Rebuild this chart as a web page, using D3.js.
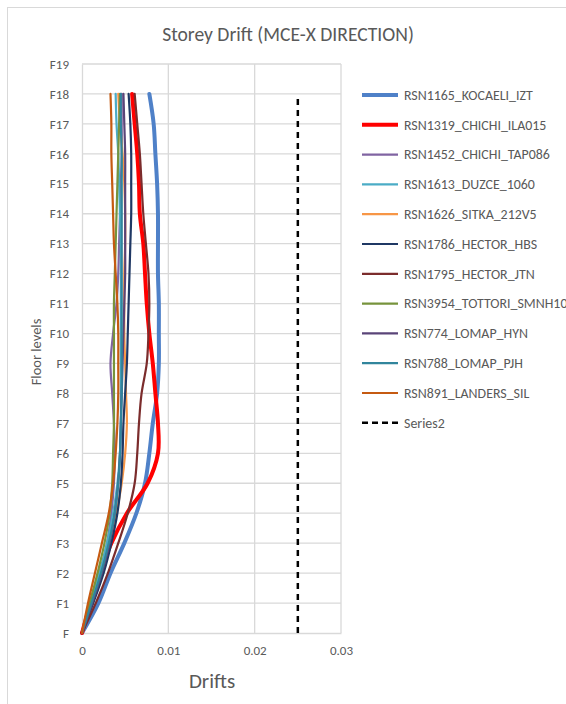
<!DOCTYPE html>
<html><head><meta charset="utf-8">
<script src="https://cdn.jsdelivr.net/npm/d3@7"></script>
<style>html,body{margin:0;padding:0;background:#fff;overflow:hidden}</style>
</head><body>
<svg id="c" width="566" height="704"></svg>
<script>
const floorLabels = ["F","F1","F2","F3","F4","F5","F6","F7","F8","F9","F10","F11","F12","F13","F14","F15","F16","F17","F18","F19"];
const xTicks = [0, 0.01, 0.02, 0.03];
const seriesNames = ["RSN1165_KOCAELI_IZT","RSN1319_CHICHI_ILA015","RSN1452_CHICHI_TAP086","RSN1613_DUZCE_1060","RSN1626_SITKA_212V5","RSN1786_HECTOR_HBS","RSN1795_HECTOR_JTN","RSN3954_TOTTORI_SMNH10","RSN774_LOMAP_HYN","RSN788_LOMAP_PJH","RSN891_LANDERS_SIL","Series2"];
const seriesColors = ["#4F81C8","#FF0000","#8064A2","#4BACC6","#F79646","#1F3864","#7B2C2C","#77933C","#5A4478","#31859C","#C55A11","#000000"];
// values at floors F..F18
const kocaeli  = [0,0.0019,0.0033,0.0049,0.0063,0.0073,0.0078,0.0082,0.0087,0.0089,0.0089,0.0089,0.0088,0.0088,0.0088,0.0087,0.0085,0.0083,0.0078];
const chichiIla= [0,0.0010,0.0021,0.0034,0.0052,0.0076,0.0088,0.0088,0.0085,0.0082,0.0078,0.0075,0.0073,0.0071,0.0067,0.0066,0.0064,0.0061,0.0058];
const chichiTap= [0,0.0011,0.0021,0.0029,0.0034,0.0037,0.0038,0.0037,0.0035,0.0033,0.0036,0.0040,0.0042,0.0043,0.0044,0.0045,0.0046,0.0046,0.0046];
const duzce    = [0,0.0010,0.0020,0.0029,0.0036,0.0041,0.0044,0.0045,0.0045,0.0045,0.0045,0.0045,0.0045,0.0045,0.0044,0.0043,0.0042,0.0040,0.0039];
const sitka    = [0,0.0012,0.0024,0.0033,0.0040,0.0046,0.0050,0.0052,0.0051,0.0050,0.0049,0.0049,0.0049,0.0050,0.0050,0.0049,0.0047,0.0044,0.0042];
const hectorHbs= [0,0.0013,0.0025,0.0034,0.0041,0.0045,0.0047,0.0048,0.0050,0.0052,0.0053,0.0054,0.0055,0.0056,0.0057,0.0057,0.0057,0.0056,0.0054];
const hectorJtn= [0,0.0016,0.0030,0.0042,0.0053,0.0061,0.0064,0.0066,0.0069,0.0075,0.0077,0.0078,0.0077,0.0074,0.0071,0.0069,0.0067,0.0064,0.0061];
const tottori  = [0,0.0009,0.0018,0.0026,0.0032,0.0035,0.0036,0.0037,0.0037,0.0037,0.0037,0.0037,0.0038,0.0039,0.0040,0.0041,0.0042,0.0043,0.0044];
const lomapHyn = [0,0.0012,0.0023,0.0032,0.0038,0.0042,0.0044,0.0045,0.0046,0.0047,0.0048,0.0049,0.0050,0.0050,0.0050,0.0050,0.0050,0.0049,0.0048];
const lomapPjh = [0,0.0011,0.0022,0.0031,0.0038,0.0042,0.0044,0.0045,0.0046,0.0046,0.0046,0.0046,0.0046,0.0046,0.0046,0.0046,0.0046,0.0045,0.0045];
const landers  = [0,0.0007,0.0015,0.0023,0.0031,0.0036,0.0039,0.0041,0.0042,0.0042,0.0042,0.0041,0.0039,0.0037,0.0036,0.0035,0.0034,0.0034,0.0033];
const series2  = [0.025,0.025,0.025,0.025,0.025,0.025,0.025,0.025,0.025,0.025,0.025,0.025,0.025,0.025,0.025,0.025,0.025,0.025,0.025];
const seriesValues = [kocaeli,chichiIla,chichiTap,duzce,sitka,hectorHbs,hectorJtn,tottori,lomapHyn,lomapPjh,landers,series2];

const svg = d3.select("#c");
const font = "Carlito, Calibri, 'Liberation Sans', sans-serif";
const txt = "#595959", grid = "#D9D9D9";

// chart frame
svg.append("rect").attr("x",7.5).attr("y",7.5).attr("width",600).attr("height",720)
  .attr("fill","#fff").attr("stroke",grid).attr("stroke-width",1);

const x = d3.scaleLinear().domain([0,0.03]).range([82,341]);
const y = d3.scaleLinear().domain([0,19]).range([633,64]);

// gridlines
svg.append("g").selectAll("line").data(d3.range(1,20)).join("line")
  .attr("x1",x(0)).attr("x2",x(0.03)).attr("y1",d=>y(d)).attr("y2",d=>y(d))
  .attr("stroke",grid).attr("stroke-width",1.3);
svg.append("g").selectAll("line").data(xTicks.slice(1)).join("line")
  .attr("x1",d=>x(d)).attr("x2",d=>x(d)).attr("y1",y(0)).attr("y2",y(19))
  .attr("stroke",grid).attr("stroke-width",1.3);

// axes
const xAxis = svg.append("g").attr("transform",`translate(0,${y(0)})`)
  .call(d3.axisBottom(x).tickValues(xTicks).tickSize(0).tickPadding(13).tickFormat(d=>d===0?"0":d3.format(".2f")(d)));
xAxis.select(".domain").attr("stroke",grid).attr("stroke-width",1.3);
xAxis.selectAll("text").attr("fill",txt).style("font-family",font).style("font-size","13px");

const yAxis = svg.append("g").attr("transform",`translate(${x(0)},0)`)
  .call(d3.axisLeft(y).tickValues(d3.range(0,20)).tickSize(0).tickPadding(13).tickFormat(i=>floorLabels[i]));
yAxis.select(".domain").attr("stroke",grid).attr("stroke-width",1.3);
yAxis.selectAll("text").attr("fill",txt).style("font-family",font).style("font-size","13px");

// series
const line = d3.line().x(d=>x(d[0])).y(d=>y(d[1])).curve(d3.curveCatmullRom.alpha(0.5));
const widths = [4,4,2.2,2.2,2.2,2.2,2.2,2.2,2.2,2.2,2.2,2.5];
seriesValues.forEach((vals,i)=>{
  const pts = vals.map((v,k)=>[v,k]);
  const p = svg.append("path").attr("d", i===11 ? d3.line().x(d=>x(d[0])).y(d=>y(d[1]))(pts) : line(pts))
    .attr("fill","none").attr("stroke",seriesColors[i]).attr("stroke-width",widths[i])
    .attr("stroke-linejoin","round").attr("stroke-linecap","round");
  if(i===11) p.attr("stroke-dasharray","6,5").attr("stroke-linecap","butt");
});

// legend
const leg = svg.append("g");
seriesNames.forEach((n,i)=>{
  const ly = 95 + i*29.8;
  const l = leg.append("line").attr("x1",362).attr("x2",398).attr("y1",ly).attr("y2",ly)
    .attr("stroke",seriesColors[i]).attr("stroke-width",widths[i]);
  if(i===11) l.attr("stroke-dasharray","6,4");
  leg.append("text").attr("x",404).attr("y",ly).attr("dy","0.35em").text(n)
    .attr("fill",txt).style("font-family",font).style("font-size","13.9px");
});

// titles
svg.append("text").attr("x",288).attr("y",34).attr("dy","0.35em").attr("text-anchor","middle")
  .text("Storey Drift (MCE-X DIRECTION)").attr("fill",txt).style("font-family",font).style("font-size","19.6px");
svg.append("text").attr("x",212).attr("y",681).attr("dy","0.35em").attr("text-anchor","middle")
  .text("Drifts").attr("fill",txt).style("font-family",font).style("font-size","21px");
svg.append("text").attr("transform","translate(36,352) rotate(-90)").attr("dy","0.35em").attr("text-anchor","middle")
  .text("Floor levels").attr("fill",txt).style("font-family",font).style("font-size","14.5px");
</script>
</body></html>
